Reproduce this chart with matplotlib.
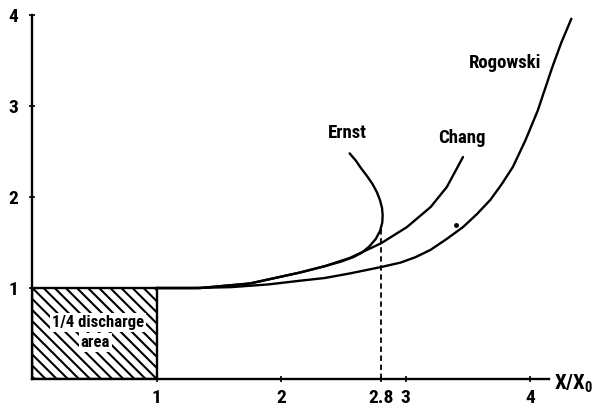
import matplotlib
matplotlib.use("Agg")
import matplotlib.pyplot as plt
from matplotlib import font_manager
from matplotlib.patches import Rectangle

# pick a narrow sans face if one is installed
available = {f.name for f in font_manager.fontManager.ttflist}
family = "DejaVu Sans"
for cand in ["Liberation Sans Narrow", "Roboto Condensed", "DejaVu Sans Condensed"]:
    if cand in available:
        family = cand
        break
plt.rcParams["font.family"] = [family, "DejaVu Sans"]
plt.rcParams["font.weight"] = "bold"
plt.rcParams["mathtext.default"] = "regular"
plt.rcParams["hatch.linewidth"] = 1.5

# field-enhancement profiles, x/x0 against relative field
rogowski_x = [1.0, 1.3, 1.6, 1.9, 2.15, 2.35, 2.55, 2.8, 2.96, 3.08, 3.2, 3.33,
              3.46, 3.57, 3.68, 3.77, 3.86, 3.96, 4.06, 4.18, 4.25, 4.33]
rogowski_y = [1.0, 1.0, 1.01, 1.04, 1.08, 1.11, 1.16, 1.23, 1.28, 1.34, 1.42, 1.54,
              1.67, 1.81, 1.97, 2.14, 2.33, 2.62, 2.95, 3.44, 3.70, 3.96]

chang_x = [1.0, 1.35, 1.75, 2.15, 2.35, 2.55, 2.8, 3.01, 3.2, 3.33, 3.46]
chang_y = [1.0, 1.0, 1.05, 1.17, 1.24, 1.33, 1.49, 1.67, 1.89, 2.11, 2.44]

ernst_x = [1.0, 1.35, 1.75, 2.15, 2.35, 2.48, 2.58, 2.65, 2.71, 2.76, 2.795,
           2.812, 2.815, 2.81, 2.795, 2.77, 2.735, 2.69, 2.64, 2.60, 2.55]
ernst_y = [1.0, 1.0, 1.05, 1.17, 1.24, 1.29, 1.34, 1.39, 1.46, 1.54, 1.63,
           1.72, 1.80, 1.88, 1.96, 2.05, 2.14, 2.23, 2.32, 2.40, 2.48]

x_cut = 2.8
y_cut = 1.67
x_ticks = [1, 2, 2.8, 3, 4]
x_tick_labels = ["1", "2", "2.8", "3", "4"]
y_ticks = [1, 2, 3, 4]
y_tick_labels = ["1", "2", "3", "4"]
speck = (3.40, 1.69)

fig = plt.figure(figsize=(6.13, 4.11), dpi=100)
ax = fig.add_axes([32 / 613, 32 / 411, 573 / 613, 373 / 411])
ax.set_xlim(0, 4.6)
ax.set_ylim(0, 4.1)

lw = 1.7
ax.plot(rogowski_x, rogowski_y, color="black", lw=lw, solid_capstyle="round")
ax.plot(chang_x, chang_y, color="black", lw=lw, solid_capstyle="round")
ax.plot(ernst_x, ernst_y, color="black", lw=lw, solid_capstyle="round",
        solid_joinstyle="round")
ax.plot([x_cut, x_cut], [0, y_cut], color="black", lw=1.3, linestyle=(0, (3, 2)))
ax.plot([speck[0]], [speck[1]], "o", color="black", ms=2.5)

# hatched quarter discharge area
ax.add_patch(Rectangle((0, 0), 1, 1, facecolor="none", edgecolor="black",
                       lw=lw, hatch="\\\\\\"))
ax.text(0.53, 0.62, "1/4 discharge", ha="center", va="center", fontsize=12,
        bbox=dict(facecolor="white", edgecolor="none", pad=1.5))
ax.text(0.51, 0.40, "area", ha="center", va="center", fontsize=12,
        bbox=dict(facecolor="white", edgecolor="none", pad=1.5))

ax.text(3.80, 3.47, "Rogowski", ha="center", va="center", fontsize=13.5)
ax.text(3.45, 2.65, "Chang", ha="center", va="center", fontsize=13.5)
ax.text(2.53, 2.70, "Ernst", ha="center", va="center", fontsize=13.5)
ax.text(4.19, -0.05, r"$X/X_0$", ha="left", va="center", fontsize=15)

for side in ["top", "right"]:
    ax.spines[side].set_visible(False)
ax.spines["left"].set_bounds(0, 4)
ax.spines["bottom"].set_bounds(0, 4.15)
ax.spines["left"].set_linewidth(lw)
ax.spines["bottom"].set_linewidth(lw)

ax.set_xticks(x_ticks)
ax.set_xticklabels(x_tick_labels)
ax.set_yticks(y_ticks)
ax.set_yticklabels(y_tick_labels)
ax.tick_params(axis="both", direction="inout", length=4, width=1.2, labelsize=14)
ax.tick_params(axis="x", pad=5)
ax.tick_params(axis="y", pad=8)

fig.savefig("out.png", dpi=100)
